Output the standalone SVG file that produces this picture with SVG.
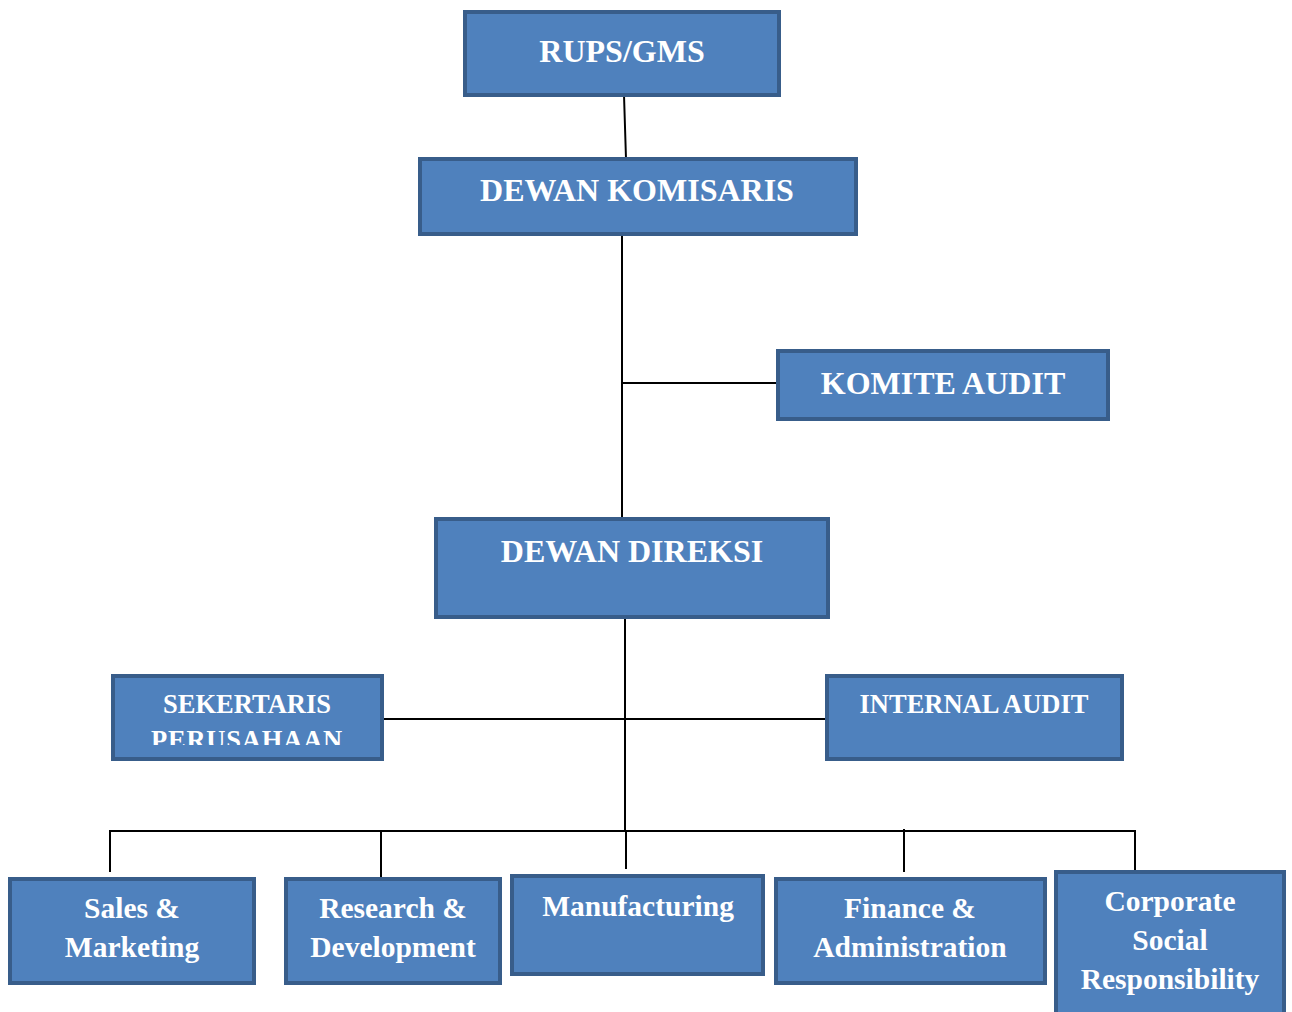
<svg xmlns="http://www.w3.org/2000/svg" width="1292" height="1012" viewBox="0 0 1292 1012">
  <style>
    .box { fill: #4F81BD; stroke: #385D8A; stroke-width: 4; }
    .lbl { fill: #FFFFFF; font-family: "Liberation Serif", "Times New Roman", serif; font-weight: bold; text-anchor: middle; }
    .big { font-size: 32px; }
    .mid { font-size: 29.5px; }
    .sm { font-size: 26.5px; }
    .link { stroke: #000000; stroke-width: 2; fill: none; }
  </style>
  <defs>
    <clipPath id="clipSek">
      <rect x="115" y="678" width="265" height="67"/>
    </clipPath>
  </defs>
  <rect width="1292" height="1012" fill="#FFFFFF"/>

  <g id="connectors">
    <line class="link" x1="624" y1="95" x2="626" y2="159"/>
    <line class="link" x1="622" y1="234" x2="622" y2="519"/>
    <line class="link" x1="622" y1="383" x2="778" y2="383"/>
    <line class="link" x1="625" y1="617" x2="625" y2="831"/>
    <line class="link" x1="382" y1="719" x2="827" y2="719"/>
    <line class="link" x1="109" y1="831" x2="1136" y2="831"/>
    <line class="link" x1="110" y1="830" x2="110" y2="872"/>
    <line class="link" x1="381" y1="830" x2="381" y2="879"/>
    <line class="link" x1="626" y1="830" x2="626" y2="869"/>
    <line class="link" x1="904" y1="829" x2="904" y2="872"/>
    <line class="link" x1="1135" y1="830" x2="1135" y2="870"/>
  </g>

  <g id="rups">
    <rect class="box" x="465" y="12" width="314" height="83"/>
    <text class="lbl big" x="622" y="62">RUPS/GMS</text>
  </g>

  <g id="dewan-komisaris">
    <rect class="box" x="420" y="159" width="436" height="75"/>
    <text class="lbl big" x="637" y="201">DEWAN KOMISARIS</text>
  </g>

  <g id="komite-audit">
    <rect class="box" x="778" y="351" width="330" height="68"/>
    <text class="lbl big" x="943" y="394">KOMITE AUDIT</text>
  </g>

  <g id="dewan-direksi">
    <rect class="box" x="436" y="519" width="392" height="98"/>
    <text class="lbl big" x="632" y="562">DEWAN DIREKSI</text>
  </g>

  <g id="sekertaris">
    <rect class="box" x="113" y="676" width="269" height="83"/>
    <g clip-path="url(#clipSek)">
      <text class="lbl sm" x="247" y="713">SEKERTARIS</text>
      <text class="lbl sm" x="247" y="749" letter-spacing="0.8">PERUSAHAAN</text>
    </g>
  </g>

  <g id="internal-audit">
    <rect class="box" x="827" y="676" width="295" height="83"/>
    <text class="lbl sm" x="974" y="713">INTERNAL AUDIT</text>
  </g>

  <g id="sales">
    <rect class="box" x="10" y="879" width="244" height="104"/>
    <text class="lbl mid" x="132" y="918">Sales &amp;</text>
    <text class="lbl mid" x="132" y="957">Marketing</text>
  </g>

  <g id="research">
    <rect class="box" x="286" y="879" width="214" height="104"/>
    <text class="lbl mid" x="393" y="918">Research &amp;</text>
    <text class="lbl mid" x="393" y="957">Development</text>
  </g>

  <g id="manufacturing">
    <rect class="box" x="512" y="876" width="251" height="98"/>
    <text class="lbl mid" x="638" y="916">Manufacturing</text>
  </g>

  <g id="finance">
    <rect class="box" x="776" y="879" width="269" height="104"/>
    <text class="lbl mid" x="910" y="918">Finance &amp;</text>
    <text class="lbl mid" x="910" y="957">Administration</text>
  </g>

  <g id="csr">
    <rect class="box" x="1056" y="872" width="228" height="150"/>
    <text class="lbl mid" x="1170" y="911">Corporate</text>
    <text class="lbl mid" x="1170" y="950">Social</text>
    <text class="lbl mid" x="1170" y="989">Responsibility</text>
  </g>
</svg>
